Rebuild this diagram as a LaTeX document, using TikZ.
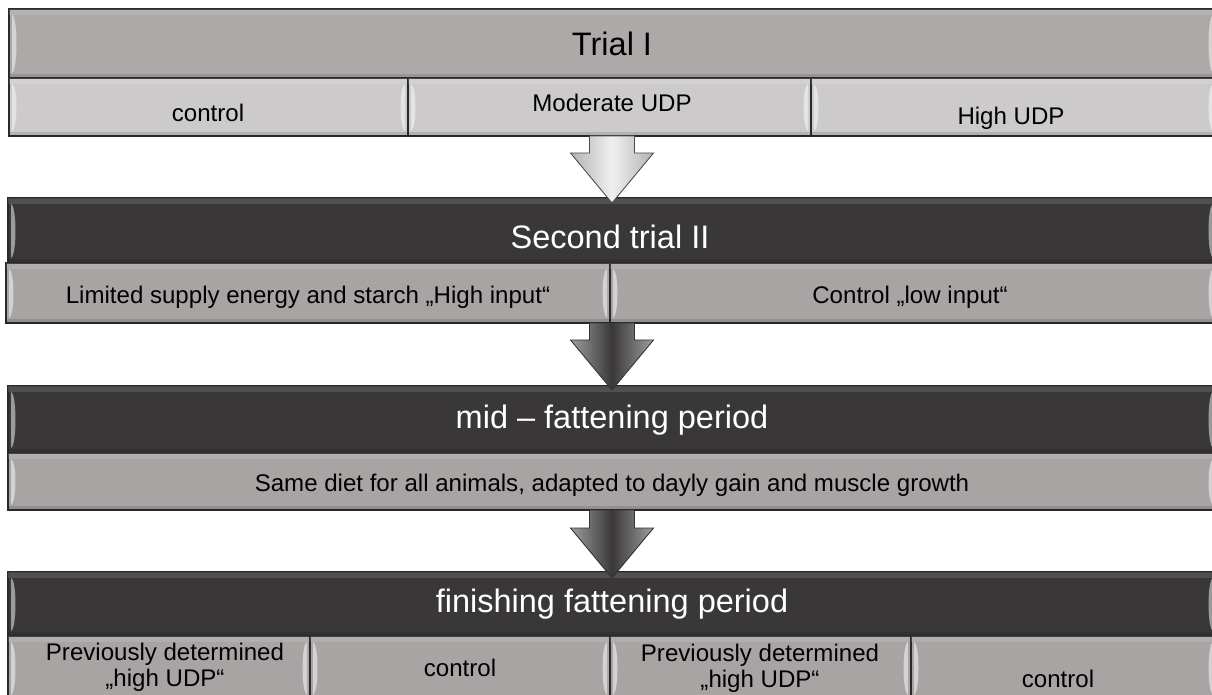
\documentclass[tikz,border=0pt]{standalone}
\usepackage{fontspec}
\setmainfont{Liberation Sans}
\usetikzlibrary{calc}

\definecolor{hdrlight}{HTML}{ADA9A8}
\definecolor{celllight}{HTML}{CCCACA}
\definecolor{hdrdark}{HTML}{3A3738}
\definecolor{cellmid}{HTML}{A7A4A3}
\definecolor{edge}{HTML}{2A2A2A}

% bevelled box: x1,y1,x2,y2,fill
\newcommand{\bevelbox}[5]{%
  \draw[draw=edge, line width=0.8pt, fill=#5] (#1,#2) rectangle (#3,#4);
  \fill[white, opacity=0.12] (#1,#2) rectangle (#3,#2+6);
  \fill[black, opacity=0.12] (#1,#4-4) rectangle (#3,#4);
  \fill[white, opacity=0.5] (#1+3,#2+6) .. controls (#1+9,#2+8) and (#1+9,#4-8) .. (#1+3,#4-5) -- cycle;
  \fill[white, opacity=0.5] (#3-3,#2+6) .. controls (#3-9,#2+8) and (#3-9,#4-8) .. (#3-3,#4-5) -- cycle;
}
% block arrow from a down to b
\newcommand{\blockarrow}[3]{%
  \draw[#3] ($(#1)+(-22.5,0)$) -- ($(#2)+(-22.5,-50)$) -- ($(#2)+(-41.5,-50)$) -- (#2)
    -- ($(#2)+(41.5,-50)$) -- ($(#2)+(22.5,-50)$) -- ($(#1)+(22.5,0)$) -- cycle;
}

\tikzset{
  hdrtext/.style={font=\fontsize{18.5}{22}\selectfont, inner sep=0pt},
  celltext/.style={font=\fontsize{13.7}{14.8}\selectfont, inner sep=0pt, align=center},
  lightarrow/.style={draw=black!70, line width=0.5pt, left color=gray!60, right color=gray!60, middle color=gray!12},
  darkarrow/.style={draw=black!80, line width=0.5pt, left color=gray!75, right color=gray!75, middle color=hdrdark}
}

\begin{document}
\begin{tikzpicture}[x=0.02cm, y=-0.02cm]
\useasboundingbox (0,0) rectangle (1212,695);
\clip (0,0) rectangle (1212,695);

% trial I
\bevelbox{9}{9}{1216}{78}{hdrlight}
\bevelbox{9}{78}{408}{136}{celllight}
\bevelbox{408}{78}{811}{136}{celllight}
\bevelbox{811}{78}{1216}{136}{celllight}
\node[hdrtext] (trialA) at (612,44) {Trial I};
\node[celltext] (ctrlA) at (208,113) {control};
\node[celltext] (modA) at (612,103) {Moderate UDP};
\node[celltext] (highA) at (1011,118) {High UDP};

% second trial II
\bevelbox{8}{198}{1216}{263}{hdrdark}
\bevelbox{6}{263}{610}{323}{cellmid}
\bevelbox{610}{263}{1216}{323}{cellmid}
\node[hdrtext, text=white] (trialB) at (610,237) {Second trial II};
\node[celltext] (highB) at (308,297) {Limited supply energy and starch „High input“};
\node[celltext] (lowB) at (910,297) {Control „low input“};

% mid fattening
\bevelbox{8}{386}{1216}{453}{hdrdark}
\bevelbox{8}{453}{1216}{510}{cellmid}
\node[hdrtext, text=white] (midC) at (612,420) {mid – fattening period};
\node[celltext] (dietC) at (612,485) {Same diet for all animals, adapted to dayly gain and muscle growth};

% finishing fattening
\bevelbox{8}{572}{1216}{636}{hdrdark}
\bevelbox{8}{636}{310}{700}{cellmid}
\bevelbox{310}{636}{610}{700}{cellmid}
\bevelbox{610}{636}{911}{700}{cellmid}
\bevelbox{911}{636}{1216}{700}{cellmid}
\node[hdrtext, text=white] (finD) at (612,604) {finishing fattening period};
\node[celltext] (prevD) at (165,667) {Previously determined\\„high UDP“};
\node[celltext] (ctrlD) at (460,668) {control};
\node[celltext] (prevE) at (760,668) {Previously determined\\„high UDP“};
\node[celltext] (ctrlE) at (1058,679) {control};

% arrows
\coordinate (outA) at (612,136);
\coordinate (inB) at (612,203);
\coordinate (outB) at (612,323);
\coordinate (inC) at (612,390);
\coordinate (outC) at (612,510);
\coordinate (inD) at (612,578);
\blockarrow{outA}{inB}{lightarrow}
\blockarrow{outB}{inC}{darkarrow}
\blockarrow{outC}{inD}{darkarrow}
\end{tikzpicture}
\end{document}
